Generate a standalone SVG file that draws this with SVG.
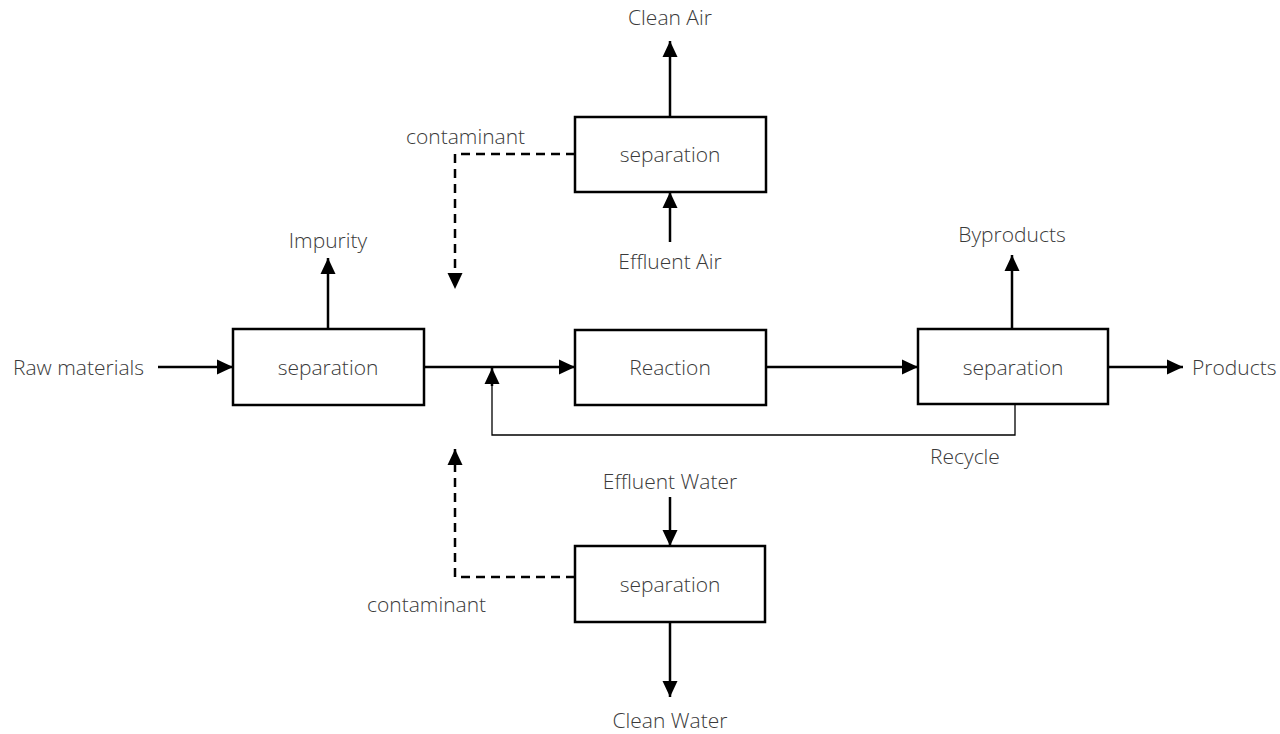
<svg xmlns="http://www.w3.org/2000/svg" width="1280" height="734" viewBox="0 0 1280 734">
<style>
.box{fill:#fff;stroke:#000;stroke-width:2.5}
.t{font-family:"Open Sans","Liberation Sans",sans-serif;font-weight:300;font-size:21px;fill:#3a3a3a}
.m{text-anchor:middle}
.ln{fill:none;stroke:#000;stroke-width:2.5}
.thin{fill:none;stroke:#000;stroke-width:1.3}
.d{fill:none;stroke:#000;stroke-width:2.5;stroke-dasharray:9,6}
</style>
<defs>
<marker id="a" markerUnits="userSpaceOnUse" markerWidth="17" markerHeight="17" refX="16" refY="8.5" orient="auto">
<path d="M0,1 L16,8.5 L0,16 Z" fill="#000"/>
</marker>
</defs>
<rect width="1280" height="734" fill="#fff"/>
<g id="connectors">
<line class="ln" x1="670" y1="117" x2="670" y2="41" marker-end="url(#a)"/>
<line class="ln" x1="670" y1="242" x2="670" y2="192" marker-end="url(#a)"/>
<polyline class="d" points="575,154 455,154 455,289" marker-end="url(#a)"/>
<line class="ln" x1="158" y1="367" x2="233" y2="367" marker-end="url(#a)"/>
<line class="ln" x1="328" y1="329" x2="328" y2="258" marker-end="url(#a)"/>
<line class="ln" x1="424" y1="367" x2="575" y2="367" marker-end="url(#a)"/>
<line class="ln" x1="766" y1="367" x2="918" y2="367" marker-end="url(#a)"/>
<polyline class="thin" points="1015,405 1015,435 492,435 492,384"/>
<line class="ln" x1="492" y1="386" x2="492" y2="368" marker-end="url(#a)"/>
<line class="ln" x1="1012" y1="329" x2="1012" y2="255" marker-end="url(#a)"/>
<line class="ln" x1="1108" y1="367" x2="1183" y2="367" marker-end="url(#a)"/>
<line class="ln" x1="670" y1="497" x2="670" y2="546" marker-end="url(#a)"/>
<line class="ln" x1="670" y1="622" x2="670" y2="697" marker-end="url(#a)"/>
<polyline class="d" points="575,577 455,577 455,449" marker-end="url(#a)"/>
</g>
<g id="sep-air">
<rect class="box" x="575" y="117" width="191" height="75"/>
<text class="t m" x="670" y="162">separation</text>
</g>
<g id="sep-in">
<rect class="box" x="233" y="329" width="191" height="76"/>
<text class="t m" x="328" y="375">separation</text>
</g>
<g id="reaction">
<rect class="box" x="575" y="330" width="191" height="75"/>
<text class="t m" x="670" y="375">Reaction</text>
</g>
<g id="sep-out">
<rect class="box" x="918" y="329" width="190" height="75"/>
<text class="t m" x="1013" y="375">separation</text>
</g>
<g id="sep-water">
<rect class="box" x="575" y="546" width="190" height="76"/>
<text class="t m" x="670" y="592">separation</text>
</g>
<g id="labels">
<text class="t m" x="670" y="25">Clean Air</text>
<text class="t m" x="670" y="269">Effluent Air</text>
<text class="t" x="406" y="144">contaminant</text>
<text class="t m" x="328" y="248">Impurity</text>
<text class="t" x="13" y="375">Raw materials</text>
<text class="t m" x="1012" y="242">Byproducts</text>
<text class="t" x="1192" y="375">Products</text>
<text class="t" x="930" y="464">Recycle</text>
<text class="t m" x="670" y="489">Effluent Water</text>
<text class="t" x="367" y="612">contaminant</text>
<text class="t m" x="670" y="728">Clean Water</text>
</g>
</svg>
